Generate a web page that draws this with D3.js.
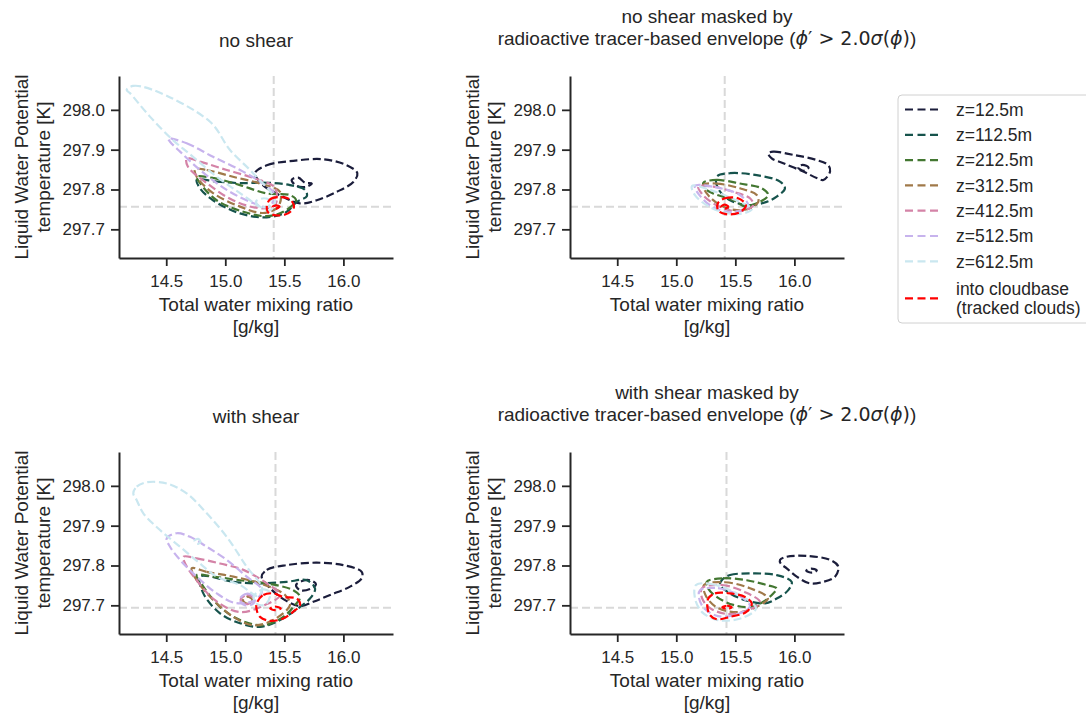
<!DOCTYPE html>
<html>
<head>
<meta charset="utf-8">
<script src="https://cdn.jsdelivr.net/npm/d3@7"></script>
<style>
  body { margin: 0; background: #fff; }
  text { font-family: "Liberation Sans", Arial, sans-serif; fill: #262626; }
</style>
</head>
<body>
<div id="chart"></div>
<script>
// levels of the KDE contours, in draw order
const levelLabels = ["z=12.5m", "z=112.5m", "z=212.5m", "z=312.5m", "z=412.5m", "z=512.5m", "z=612.5m", "into cloudbase|(tracked clouds)"];
const levelColors = ["#1b1d3b", "#16534c", "#437731", "#a07949", "#d483a7", "#c7b3ed", "#cae7f0", "#ff0000"];

const xTicks = [14.5, 15.0, 15.5, 16.0];
const yTicks = [297.7, 297.8, 297.9, 298.0];
const xDomain = [14.1, 16.42];
const yDomain = [297.628, 298.085];

// mean cloud-base values (q_t, theta_l) shown as dashed grey lines
const refNoShear = [15.41, 297.757];
const refWithShear = [15.425, 297.694];

// contours: [level index, ring of [q_t, theta_l]]
const noShear = [
    [0, [[15.252,297.841],[15.351,297.861],[15.576,297.872],[15.830,297.876],[16.028,297.861],[16.118,297.841],[16.084,297.819],[15.943,297.794],[15.774,297.773],[15.633,297.765],[15.480,297.783],[15.319,297.811]]],
    [0, [[15.562,297.824],[15.618,297.830],[15.675,297.817],[15.732,297.815],[15.689,297.807],[15.605,297.809]]],
    [1, [[14.758,297.824],[14.927,297.820],[15.125,297.816],[15.351,297.817],[15.548,297.811],[15.675,297.799],[15.690,297.783],[15.605,297.769],[15.520,297.744],[15.351,297.730],[15.125,297.740],[14.896,297.773],[14.786,297.803]]],
    [2, [[14.758,297.832],[14.896,297.829],[15.125,297.811],[15.351,297.790],[15.548,297.786],[15.599,297.773],[15.491,297.744],[15.351,297.733],[15.153,297.744],[14.927,297.773],[14.786,297.816]]],
    [3, [[14.744,297.851],[14.843,297.849],[15.065,297.832],[15.294,297.815],[15.463,297.794],[15.446,297.756],[15.319,297.741],[15.125,297.757],[14.896,297.791],[14.758,297.832]]],
    [4, [[14.673,297.878],[14.786,297.870],[15.012,297.849],[15.235,297.829],[15.421,297.804],[15.421,297.761],[15.294,297.753],[15.065,297.773],[14.843,297.816],[14.684,297.857]]],
    [5, [[14.517,297.928],[14.673,297.916],[14.896,297.882],[15.125,297.849],[15.311,297.816],[15.421,297.786],[15.362,297.756],[15.235,297.766],[15.012,297.799],[14.786,297.849],[14.617,297.895],[14.532,297.920]]],
    [6, [[14.165,298.050],[14.219,298.060],[14.388,298.050],[14.871,297.970],[15.040,297.899],[15.235,297.841],[15.421,297.773],[15.379,297.748],[15.294,297.757],[15.125,297.791],[14.927,297.832],[14.727,297.882],[14.557,297.924],[14.362,297.983],[14.193,298.042]]],
    [6, [[15.26,297.770],[15.33,297.778],[15.39,297.770],[15.36,297.757],[15.29,297.758]]],
    [7, [[15.351,297.757],[15.379,297.775],[15.463,297.781],[15.548,297.775],[15.582,297.757],[15.531,297.740],[15.429,297.735],[15.362,297.743]]],
    [7, [[15.40,297.756],[15.43,297.760],[15.46,297.757],[15.43,297.752]]]
];

const noShearMasked = [
    [0, [[15.779,297.891],[15.821,297.895],[15.991,297.887],[16.189,297.874],[16.287,297.861],[16.302,297.845],[16.245,297.824],[16.189,297.829],[16.075,297.845],[15.906,297.866],[15.808,297.878]]],
    [0, [[16.03,297.856],[16.07,297.862],[16.12,297.855],[16.08,297.847]]],
    [1, [[15.342,297.832],[15.455,297.841],[15.681,297.836],[15.878,297.820],[15.920,297.803],[15.850,297.782],[15.765,297.769],[15.624,297.761],[15.455,297.773],[15.353,297.803]]],
    [2, [[15.229,297.817],[15.342,297.824],[15.539,297.815],[15.723,297.803],[15.779,297.786],[15.709,297.769],[15.582,297.758],[15.483,297.773],[15.313,297.790],[15.243,297.803]]],
    [3, [[15.229,297.811],[15.342,297.815],[15.539,297.803],[15.681,297.786],[15.694,297.769],[15.624,297.753],[15.512,297.748],[15.370,297.761],[15.258,297.790]]],
    [4, [[15.186,297.807],[15.313,297.807],[15.483,297.794],[15.624,297.778],[15.652,297.761],[15.582,297.748],[15.455,297.748],[15.313,297.765],[15.215,297.790]]],
    [5, [[15.158,297.809],[15.328,297.806],[15.539,297.786],[15.607,297.761],[15.497,297.743],[15.328,297.753],[15.201,297.784]]],
    [6, [[15.133,297.809],[15.286,297.799],[15.497,297.774],[15.641,297.751],[15.523,297.738],[15.303,297.753],[15.158,297.786]]],
    [7, [[15.353,297.766],[15.413,297.778],[15.523,297.778],[15.590,297.761],[15.539,297.743],[15.421,297.738],[15.353,297.748]]],
    [7, [[15.38,297.757],[15.41,297.762],[15.44,297.757],[15.41,297.752]]]
];

const withShear = [
    [0, [[15.308,297.772],[15.351,297.789],[15.520,297.801],[15.774,297.807],[15.999,297.801],[16.155,297.784],[16.155,297.768],[16.056,297.747],[15.887,297.726],[15.745,297.709],[15.633,297.698],[15.506,297.713],[15.379,297.743]]],
    [0, [[15.599,297.751],[15.650,297.761],[15.717,297.763],[15.768,297.753],[15.717,297.741],[15.633,297.738]]],
    [1, [[14.786,297.772],[15.068,297.759],[15.294,297.755],[15.520,297.759],[15.689,297.763],[15.760,297.742],[15.717,297.717],[15.633,297.696],[15.463,297.663],[15.294,297.646],[15.125,297.655],[14.955,297.680],[14.814,297.730]]],
    [2, [[14.758,297.776],[14.899,297.772],[15.125,297.763],[15.351,297.755],[15.576,297.738],[15.633,297.721],[15.576,297.696],[15.491,297.671],[15.322,297.650],[15.125,297.663],[14.955,297.696],[14.814,297.747]]],
    [3, [[14.716,297.793],[14.843,297.784],[15.068,297.772],[15.294,297.755],[15.506,297.726],[15.548,297.701],[15.404,297.663],[15.237,297.650],[15.068,297.671],[14.899,297.713],[14.758,297.763]]],
    [3, [[15.15,297.712],[15.19,297.722],[15.23,297.713],[15.19,297.704]]],
    [4, [[14.645,297.822],[14.758,297.818],[14.955,297.805],[15.153,297.789],[15.351,297.755],[15.463,297.726],[15.336,297.701],[15.125,297.683],[14.913,297.713],[14.744,297.768],[14.667,297.801]]],
    [4, [[15.13,297.713],[15.18,297.726],[15.24,297.717],[15.19,297.703]]],
    [5, [[14.504,297.868],[14.589,297.881],[14.701,297.872],[14.843,297.847],[15.012,297.814],[15.181,297.772],[15.311,297.738],[15.252,297.713],[15.083,297.706],[14.927,297.730],[14.758,297.772],[14.617,297.814],[14.532,297.847]]],
    [5, [[15.12,297.714],[15.18,297.729],[15.25,297.720],[15.24,297.705],[15.17,297.700]]],
    [6, [[14.221,297.981],[14.250,297.998],[14.335,298.009],[14.504,298.006],[14.673,297.981],[14.843,297.931],[15.012,297.872],[15.181,297.797],[15.311,297.743],[15.277,297.723],[15.125,297.751],[14.927,297.772],[14.786,297.805],[14.617,297.847],[14.447,297.889],[14.306,297.931],[14.250,297.964]]],
    [6, [[14.74,297.862],[14.77,297.867],[14.79,297.859],[14.76,297.854]]],
    [6, [[15.24,297.722],[15.32,297.740],[15.38,297.731],[15.34,297.702],[15.27,297.703]]],
    [7, [[15.266,297.705],[15.322,297.726],[15.407,297.730],[15.491,297.721],[15.605,297.717],[15.633,297.701],[15.576,297.684],[15.491,297.667],[15.379,297.661],[15.294,297.671],[15.266,297.688]]],
    [7, [[15.38,297.692],[15.42,297.697],[15.47,297.692],[15.42,297.688]]]
];

const withShearMasked = [
    [0, [[15.878,297.814],[15.935,297.822],[16.104,297.824],[16.302,297.814],[16.372,297.797],[16.344,297.772],[16.245,297.759],[16.132,297.755],[16.020,297.772],[15.935,297.793],[15.884,297.805]]],
    [0, [[16.10,297.787],[16.14,297.792],[16.19,297.788],[16.15,297.782]]],
    [1, [[15.385,297.763],[15.455,297.776],[15.652,297.780],[15.850,297.776],[15.977,297.759],[15.948,297.738],[15.850,297.717],[15.751,297.705],[15.582,297.713],[15.438,297.733],[15.370,297.751]]],
    [2, [[15.258,297.759],[15.398,297.768],[15.596,297.763],[15.765,297.751],[15.850,297.742],[15.821,297.730],[15.737,297.709],[15.624,297.696],[15.483,297.701],[15.342,297.721],[15.271,297.742]]],
    [3, [[15.235,297.751],[15.413,297.758],[15.624,297.743],[15.776,297.718],[15.692,297.698],[15.539,297.683],[15.353,297.693],[15.252,297.723]]],
    [4, [[15.218,297.743],[15.387,297.751],[15.582,297.733],[15.709,297.708],[15.607,297.688],[15.438,297.678],[15.286,297.693],[15.218,297.718]]],
    [5, [[15.201,297.738],[15.353,297.743],[15.539,297.723],[15.624,297.698],[15.523,297.678],[15.353,297.673],[15.235,297.693],[15.193,297.718]]],
    [6, [[15.167,297.751],[15.303,297.753],[15.523,297.728],[15.675,297.693],[15.557,297.668],[15.353,297.663],[15.218,297.683],[15.158,297.718]]],
    [7, [[15.271,297.717],[15.328,297.730],[15.455,297.730],[15.582,297.721],[15.639,297.705],[15.596,297.684],[15.455,297.671],[15.342,297.665],[15.286,297.675],[15.263,297.696]]],
    [7, [[15.39,297.695],[15.43,297.699],[15.47,297.695],[15.43,297.691]]]
];

const W = 1086, H = 714;
const panelW = 274, panelH = 182;
const ink = "#262626";
const mathFont = "DejaVu Sans";

const svg = d3.select("#chart").append("svg")
    .attr("width", W)
    .attr("height", H);

const panels = [
    { left: 119, top: 76, title: ["no shear"], contours: noShear, ref: refNoShear },
    { left: 570, top: 76, title: ["no shear masked by", "math"], contours: noShearMasked, ref: refNoShear },
    { left: 119, top: 452, title: ["with shear"], contours: withShear, ref: refWithShear },
    { left: 570, top: 452, title: ["with shear masked by", "math"], contours: withShearMasked, ref: refWithShear }
];

function mathTitle(text) {
    text.append("tspan").text("radioactive tracer-based envelope (");
    text.append("tspan").attr("font-family", mathFont).attr("font-style", "italic").text("\u03d5");
    text.append("tspan").attr("font-family", mathFont).text("\u2032 > 2.0");
    text.append("tspan").attr("font-family", mathFont).attr("font-style", "italic").text("\u03c3");
    text.append("tspan").attr("font-family", mathFont).text("(");
    text.append("tspan").attr("font-family", mathFont).attr("font-style", "italic").text("\u03d5");
    text.append("tspan").attr("font-family", mathFont).text(")");
    text.append("tspan").text(")");
}

function styleAxis(g) {
    g.attr("font-family", null).attr("font-size", 17).attr("color", ink);
    g.select(".domain").attr("stroke-width", 2);
    g.selectAll(".tick line").attr("stroke-width", 1.8);
}

function drawPanel(p) {
    const x = d3.scaleLinear().domain(xDomain).range([p.left, p.left + panelW]);
    const y = d3.scaleLinear().domain(yDomain).range([p.top + panelH, p.top]);
    const g = svg.append("g");

    // grey reference lines
    g.append("line")
        .attr("x1", x(p.ref[0])).attr("x2", x(p.ref[0]))
        .attr("y1", p.top).attr("y2", p.top + panelH);
    g.append("line")
        .attr("x1", p.left).attr("x2", p.left + panelW)
        .attr("y1", y(p.ref[1])).attr("y2", y(p.ref[1]));
    g.selectAll("line")
        .attr("stroke", "#d9d9d9")
        .attr("stroke-width", 2)
        .attr("stroke-dasharray", "8,4");

    const contour = d3.line()
        .x(d => x(d[0]))
        .y(d => y(d[1]))
        .curve(d3.curveCatmullRomClosed.alpha(0.5));

    g.selectAll(".contour")
        .data(p.contours)
        .enter().append("path")
        .attr("class", "contour")
        .attr("d", d => contour(d[1]))
        .attr("fill", "none")
        .attr("stroke", d => levelColors[d[0]])
        .attr("stroke-width", 2.2)
        .attr("stroke-dasharray", "8,3.6");

    g.append("g")
        .attr("transform", `translate(0,${p.top + panelH})`)
        .call(d3.axisBottom(x).tickValues(xTicks).tickFormat(d3.format(".1f"))
            .tickSize(8).tickPadding(9).tickSizeOuter(0))
        .call(styleAxis);

    g.append("g")
        .attr("transform", `translate(${p.left},0)`)
        .call(d3.axisLeft(y).tickValues(yTicks).tickFormat(d3.format(".1f"))
            .tickSize(8).tickPadding(6).tickSizeOuter(0))
        .call(styleAxis);

    // axis labels
    const cy = p.top + panelH / 2;
    const lx = p.left - 91;
    g.append("text")
        .attr("transform", `translate(${lx},${cy}) rotate(-90)`)
        .attr("text-anchor", "middle").attr("font-size", 19)
        .text("Liquid Water Potential");
    g.append("text")
        .attr("transform", `translate(${lx + 22},${cy}) rotate(-90)`)
        .attr("text-anchor", "middle").attr("font-size", 19)
        .text("temperature [K]");

    const cx = p.left + panelW / 2;
    g.append("text")
        .attr("x", cx).attr("y", p.top + panelH + 53)
        .attr("text-anchor", "middle").attr("font-size", 19)
        .text("Total water mixing ratio");
    g.append("text")
        .attr("x", cx).attr("y", p.top + panelH + 75)
        .attr("text-anchor", "middle").attr("font-size", 19)
        .text("[g/kg]");

    // title
    if (p.title.length === 1) {
        g.append("text")
            .attr("x", cx).attr("y", p.top - 29)
            .attr("text-anchor", "middle").attr("font-size", 19)
            .text(p.title[0]);
    } else {
        g.append("text")
            .attr("x", cx).attr("y", p.top - 53)
            .attr("text-anchor", "middle").attr("font-size", 19)
            .text(p.title[0]);
        g.append("text")
            .attr("x", cx).attr("y", p.top - 31)
            .attr("text-anchor", "middle").attr("font-size", 19)
            .call(mathTitle);
    }
}

panels.forEach(drawPanel);

// legend
const legend = svg.append("g");
legend.append("rect")
    .attr("x", 898).attr("y", 95)
    .attr("width", 200).attr("height", 228)
    .attr("rx", 4)
    .attr("fill", "#fff")
    .attr("stroke", "#d0d0d0")
    .attr("stroke-width", 1);

const rowY = d3.scaleLinear().domain([0, 1]).range([109.5, 134.8]);
levelLabels.forEach((label, i) => {
    const lines = label.split("|");
    const yc = i < 7 ? rowY(i) : 298.3;
    legend.append("line")
        .attr("x1", 905).attr("x2", 941)
        .attr("y1", yc).attr("y2", yc)
        .attr("stroke", levelColors[i])
        .attr("stroke-width", 2.2)
        .attr("stroke-dasharray", "8,4.5");
    lines.forEach((t, j) => {
        legend.append("text")
            .attr("x", 956)
            .attr("y", yc + 6.3 + (j - (lines.length - 1) / 2) * 19.5)
            .attr("font-size", 17.5)
            .text(t);
    });
});
</script>
</body>
</html>
